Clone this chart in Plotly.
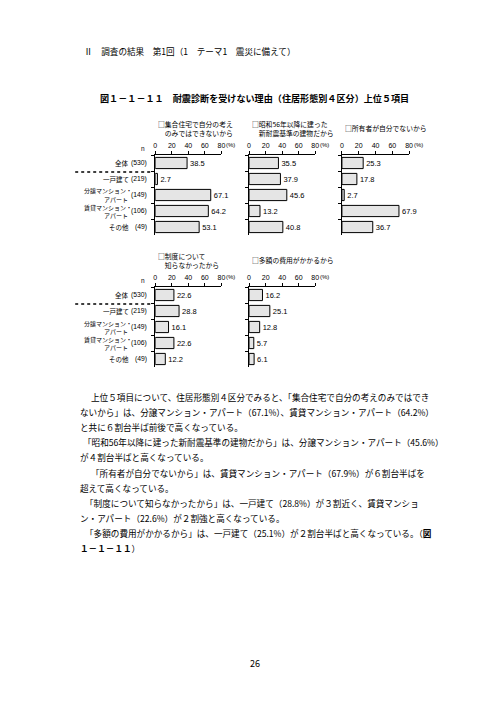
import plotly.graph_objects as go

# データ（図1-1-11 耐震診断を受けない理由 住居形態別4区分 上位5項目）
categories = ["全体", "一戸建て", "分譲マンション・アパート", "賃貸マンション・アパート", "その他"]
label_line1 = ["全体", "一戸建て", "分譲マンション・", "賃貸マンション・", "その他"]
label_line2 = ["", "", "アパート", "アパート", ""]
n_counts = ["(530)", "(219)", "(149)", "(106)", "(49)"]
reasons = [
    "□集合住宅で自分の考え<br>　のみではできないから",
    "□昭和56年以降に建った<br>　新耐震基準の建物だから",
    "□所有者が自分でないから",
    "□制度について<br>　知らなかったから",
    "□多額の費用がかかるから",
]
vals_r1 = [38.5, 2.7, 67.1, 64.2, 53.1]
vals_r2 = [35.5, 37.9, 45.6, 13.2, 40.8]
vals_r3 = [25.3, 17.8, 2.7, 67.9, 36.7]
vals_r4 = [22.6, 28.8, 16.1, 22.6, 12.2]
vals_r5 = [16.2, 25.1, 12.8, 5.7, 6.1]
tick_vals = [0, 20, 40, 60, 80]

header = "Ⅱ　調査の結果　第1回（1　テーマ1　震災に備えて）"
fig_title = "<b>図１－１－１１　耐震診断を受けない理由（住居形態別４区分）上位５項目</b>"
body_lines = [
    "上位５項目について、住居形態別４区分でみると、「集合住宅で自分の考えのみではでき",
    "ないから」は、分譲マンション・アパート（67.1%）、賃貸マンション・アパート（64.2%）",
    "と共に６割台半ば前後で高くなっている。",
    "「昭和56年以降に建った新耐震基準の建物だから」は、分譲マンション・アパート（45.6%）",
    "が４割台半ばと高くなっている。",
    "「所有者が自分でないから」は、賃貸マンション・アパート（67.9%）が６割台半ばを",
    "超えて高くなっている。",
    "「制度について知らなかったから」は、一戸建て（28.8%）が３割近く、賃貸マンショ",
    "ン・アパート（22.6%）が２割強と高くなっている。",
    "「多額の費用がかかるから」は、一戸建て（25.1%）が２割台半ばと高くなっている。（<b>図</b>",
    "<b>１－１－１１</b>）",
]
body_x = [80, 69, 69, 72, 69, 80, 69, 74, 69, 74, 69]

W, H = 496, 702
JP = "Noto Sans CJK JP"
NUM = "Liberation Sans, Arial"


def px(x):
    return x / W


def py(y):
    return 1 - y / H


# パネル配置（ピクセル）
panels = [
    (vals_r1, 147, 214, 147, 227),
    (vals_r2, 242, 309, 147, 227),
    (vals_r3, 336, 404, 147, 227),
    (vals_r4, 147, 214, 279, 359),
    (vals_r5, 242, 309, 279, 359),
]

fig = go.Figure()
layout = {}
annotations = []
shapes = []

for i, (vals, x0, x1, y0, y1) in enumerate(panels, start=1):
    fig.add_trace(go.Bar(
        x=vals, y=categories, orientation="h",
        xaxis=f"x{i}", yaxis=f"y{i}",
        width=0.7,
        marker=dict(color="white", line=dict(color="black", width=1),
                    pattern=dict(shape=".", fgcolor="#888888", bgcolor="white",
                                 size=2, solidity=0.5)),
        text=[f"{v:.1f}" for v in vals], textposition="outside",
        textfont=dict(size=7.5, family=NUM, color="black"),
        cliponaxis=False, showlegend=False))
    layout[f"xaxis{i}"] = dict(
        domain=[px(x0), px(x1)], anchor=f"y{i}", side="top", range=[0, 80],
        tickvals=tick_vals, ticks="outside", ticklen=3, tickcolor="black",
        showline=True, linecolor="black", linewidth=1, showgrid=False, zeroline=False,
        tickfont=dict(size=7, family=NUM, color="black"))
    layout[f"yaxis{i}"] = dict(
        domain=[py(y1), py(y0)], anchor=f"x{i}", autorange="reversed",
        showticklabels=False, ticks="outside", ticklen=3, tickcolor="black",
        tickson="boundaries", showline=True, linecolor="black", linewidth=1,
        showgrid=False)
    # (%)
    annotations.append(dict(x=px(x1 + 3), y=py(y0 - 10), xref="paper", yref="paper",
                            text="(%)", showarrow=False, xanchor="left", yanchor="middle",
                            font=dict(size=6, family=NUM, color="black")))
    # 項目名
    title = reasons[i - 1]
    annotations.append(dict(x=px(x0 + 1), y=py(y0 - 27), xref="paper", yref="paper",
                            text=title, showarrow=False, xanchor="left", yanchor="middle",
                            align="left", font=dict(size=6.8, family=JP, color="black")))

# 行ラベル（左列のパネル）
for y0 in (147, 279):
    step = 16
    for k in range(len(categories)):
        yc = y0 + step * (k + 0.5)
        if label_line2[k]:
            annotations.append(dict(x=px(124), y=py(yc - 4), xref="paper", yref="paper",
                                    text=label_line1[k], showarrow=False, xanchor="right",
                                    yanchor="middle", borderpad=0,
                                    font=dict(size=6, family=JP, color="black")))
            annotations.append(dict(x=px(120), y=py(yc + 4), xref="paper", yref="paper",
                                    text=label_line2[k], showarrow=False, xanchor="right",
                                    yanchor="middle", borderpad=0,
                                    font=dict(size=6, family=JP, color="black")))
        else:
            annotations.append(dict(x=px(122), y=py(yc), xref="paper", yref="paper",
                                    text=label_line1[k], showarrow=False, xanchor="right",
                                    yanchor="middle", font=dict(size=6.5, family=JP, color="black")))
        annotations.append(dict(x=px(141), y=py(yc), xref="paper", yref="paper",
                                text=n_counts[k], showarrow=False, xanchor="right", yanchor="middle",
                                font=dict(size=6.8, family=NUM, color="black")))
    annotations.append(dict(x=px(135), y=py(y0 - 6), xref="paper", yref="paper",
                            text="n", showarrow=False, xanchor="center", yanchor="middle",
                            font=dict(size=6.5, family=NUM, color="black")))
    shapes.append(dict(type="line", xref="paper", yref="paper",
                       x0=px(66), x1=px(143), y0=py(y0 + 17), y1=py(y0 + 17),
                       line=dict(color="black", width=1.5, dash="dot")))

# ページの文字
annotations.append(dict(x=px(73), y=py(43), xref="paper", yref="paper", text=header,
                        showarrow=False, xanchor="left", yanchor="middle",
                        font=dict(size=8.6, family=JP, color="black")))
annotations.append(dict(x=px(247), y=py(90), xref="paper", yref="paper", text=fig_title,
                        showarrow=False, xanchor="center", yanchor="middle",
                        font=dict(size=9.1, family=JP, color="black")))
for k, (line, lx) in enumerate(zip(body_lines, body_x)):
    annotations.append(dict(x=px(lx), y=py(389 + 15.1 * k), xref="paper", yref="paper",
                            text=line, showarrow=False, xanchor="left", yanchor="middle",
                            font=dict(size=8.6, family=JP, color="black")))
annotations.append(dict(x=px(248), y=py(655), xref="paper", yref="paper", text="26",
                        showarrow=False, xanchor="center", yanchor="middle",
                        font=dict(size=9, family=JP, color="black")))

fig.update_layout(
    width=W, height=H, margin=dict(l=0, r=0, t=0, b=0),
    paper_bgcolor="white", plot_bgcolor="white",
    annotations=annotations, shapes=shapes, **layout)

fig.write_html("out.html")
